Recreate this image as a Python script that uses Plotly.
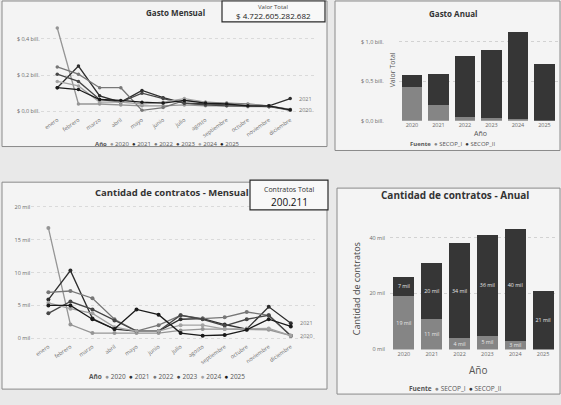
import plotly.graph_objects as go

# ---------------- DATA ----------------
meses = ["enero", "febrero", "marzo", "abril", "mayo", "junio", "julio",
         "agosto", "septiembre", "octubre", "noviembre", "diciembre"]
anios = ["2020", "2021", "2022", "2023", "2024", "2025"]

# Gasto mensual (billones de pesos)
gasto_2020 = [0.46, 0.04, 0.04, 0.035, 0.03, 0.03, 0.035, 0.03, 0.03, 0.025, 0.025, 0.005]
gasto_2021 = [0.13, 0.25, 0.085, 0.05, 0.115, 0.075, 0.045, 0.04, 0.04, 0.035, 0.03, 0.07]
gasto_2022 = [0.245, 0.205, 0.13, 0.13, 0.005, 0.02, 0.06, 0.05, 0.045, 0.04, 0.03, 0.005]
gasto_2023 = [0.205, 0.165, 0.065, 0.05, 0.10, 0.07, 0.045, 0.035, 0.03, 0.03, 0.025, 0.01]
gasto_2024 = [0.165, 0.14, 0.05, 0.05, 0.04, 0.05, 0.07, 0.05, 0.04, 0.035, 0.03, 0.01]
gasto_2025 = [0.13, 0.12, 0.065, 0.06, 0.05, 0.045, 0.06, 0.045, 0.04, 0.03, 0.03, 0.008]

# Cantidad de contratos mensual (miles)
contratos_2020 = [16.8, 2.1, 0.8, 0.8, 0.8, 0.8, 1.2, 1.4, 1.4, 1.3, 1.3, 0.4]
contratos_2021 = [5.9, 10.3, 3.0, 1.4, 1.1, 1.1, 2.9, 3.0, 2.1, 1.4, 4.8, 2.3]
contratos_2022 = [7.0, 7.2, 6.1, 2.9, 1.1, 2.0, 3.5, 3.0, 3.2, 4.0, 3.5, 0.4]
contratos_2023 = [3.8, 5.6, 4.4, 2.7, 1.1, 1.1, 3.5, 2.9, 1.9, 2.9, 3.5, 0.4]
contratos_2024 = [5.4, 4.5, 3.8, 1.7, 1.1, 1.1, 2.0, 2.0, 1.4, 1.5, 1.5, 0.4]
contratos_2025 = [5.0, 5.0, 2.9, 1.4, 4.4, 3.6, 0.8, 0.4, 0.5, 1.3, 2.9, 1.8]

# Anual por fuente
fuentes = ["SECOP_I", "SECOP_II"]
gasto_secop1 = [0.43, 0.20, 0.05, 0.03, 0.02, 0.0]
gasto_secop2 = [0.15, 0.39, 0.77, 0.86, 1.10, 0.72]
contratos_secop1 = [19, 11, 4, 5, 3, 0]
contratos_secop2 = [7, 20, 34, 36, 40, 21]

valor_total = "$ 4.722.605.282.682"
contratos_total = "200.211"

gasto_ticks = [0, 0.2, 0.4]
gasto_ticktext = ["$ 0,0 bill.", "$ 0,2 bill.", "$ 0,4 bill."]
anual_ticks = [0, 0.5, 1.0]
anual_ticktext = ["$ 0,0 bill.", "$ 0,5 bill.", "$ 1,0 bill."]
cont_ticks = [0, 5, 10, 15, 20]
cont_ticktext = ["0 mil", "5 mil", "10 mil", "15 mil", "20 mil"]
cont_anual_ticks = [0, 20, 40]
cont_anual_ticktext = ["0 mil", "20 mil", "40 mil"]

# ---------------- STYLE ----------------
W, H = 561, 405
FONT = "Open Sans"
year_colors = ["#959595", "#2e2e2e", "#777777", "#474747", "#a3a3a3", "#1a1a1a"]
fuente_colors = ["#858585", "#363636"]
gasto_series = [gasto_2020, gasto_2021, gasto_2022, gasto_2023, gasto_2024, gasto_2025]
cont_series = [contratos_2020, contratos_2021, contratos_2022, contratos_2023,
               contratos_2024, contratos_2025]


def px(x):
    return x / W


def py(y):
    return 1 - y / H


fig = go.Figure()

for name, vals, col in zip(anios, gasto_series, year_colors):
    fig.add_trace(go.Scatter(x=meses, y=vals, name=name, mode="lines+markers",
                             line=dict(color=col, width=1.3),
                             marker=dict(color=col, size=3.5),
                             xaxis="x", yaxis="y", showlegend=False))

for name, vals, col in zip(anios, cont_series, year_colors):
    fig.add_trace(go.Scatter(x=meses, y=vals, name=name, mode="lines+markers",
                             line=dict(color=col, width=1.3),
                             marker=dict(color=col, size=4),
                             xaxis="x3", yaxis="y3", showlegend=False))

for name, vals, col in zip(fuentes, [gasto_secop1, gasto_secop2], fuente_colors):
    fig.add_trace(go.Bar(x=anios, y=vals, name=name, marker=dict(color=col, line=dict(width=0)),
                         xaxis="x2", yaxis="y2", showlegend=False))

for name, vals, col in zip(fuentes, [contratos_secop1, contratos_secop2], fuente_colors):
    fig.add_trace(go.Bar(x=anios, y=vals, name=name,
                         marker=dict(color=col, line=dict(width=0)),
                         text=[f"{v} mil" if v > 0 else "" for v in vals],
                         textposition="inside", insidetextanchor="middle",
                         textfont=dict(color="#e8e8e8", size=6, family=FONT),
                         textangle=0,
                         xaxis="x4", yaxis="y4", showlegend=False))

axis_common = dict(showline=False, zeroline=False, ticks="",
                   tickfont=dict(size=5.5, color="#6a6a6a", family=FONT))

fig.update_layout(
    width=W, height=H,
    margin=dict(l=0, r=0, t=0, b=0),
    paper_bgcolor="#e9e9e9",
    plot_bgcolor="rgba(0,0,0,0)",
    barmode="stack",
    bargap=0.24,
    uniformtext=dict(minsize=5, mode="show"),
    font=dict(family=FONT, color="#444"),
    xaxis=dict(domain=[px(40.6), px(314.2)], anchor="y", tickangle=-35,
               showgrid=False, **axis_common),
    yaxis=dict(domain=[py(116), py(21)], anchor="x", range=[-0.02, 0.5],
               tickvals=gasto_ticks, ticktext=gasto_ticktext,
               showgrid=True, gridcolor="#dadada", griddash="dot", **axis_common),
    xaxis2=dict(domain=[px(398.7), px(557.7)], anchor="y2", showgrid=False,
                **axis_common),
    yaxis2=dict(domain=[py(122), py(26)], anchor="x2", range=[0, 1.2],
                tickvals=anual_ticks, ticktext=anual_ticktext, ticklabelstandoff=14,
                showgrid=True, gridcolor="#d2d2d2", griddash="dot", **axis_common),
    xaxis3=dict(domain=[px(31.2), px(314.8)], anchor="y3", tickangle=-35,
                showgrid=False, **axis_common),
    yaxis3=dict(domain=[py(345), py(199)], anchor="x3", range=[-0.5, 21.5],
                tickvals=cont_ticks, ticktext=cont_ticktext,
                showgrid=True, gridcolor="#dadada", griddash="dot", **axis_common),
    xaxis4=dict(domain=[px(390), px(557)], anchor="y4", showgrid=False,
                **axis_common),
    yaxis4=dict(domain=[py(353), py(223)], anchor="x4", range=[0, 46],
                tickvals=cont_anual_ticks, ticktext=cont_anual_ticktext, ticklabelstandoff=4,
                showgrid=True, gridcolor="#d2d2d2", griddash="dot", **axis_common),
)

shapes = []
for (x0, y0, x1, y1) in [(2, 1, 327, 148), (335, 1, 560, 152),
                         (2, 184, 327, 393), (337, 190, 560, 398)]:
    shapes.append(dict(type="rect", xref="paper", yref="paper",
                       x0=px(x0), x1=px(x1), y0=py(y1), y1=py(y0),
                       fillcolor="#f4f4f4", line=dict(color="#8a8a8a", width=1),
                       layer="below"))
for (x0, y0, x1, y1) in [(222, 1, 325, 22), (250, 182, 328, 212)]:
    shapes.append(dict(type="rect", xref="paper", yref="paper",
                       x0=px(x0), x1=px(x1), y0=py(y1), y1=py(y0),
                       fillcolor="#f8f8f8", line=dict(color="#2a2a2a", width=1.2),
                       layer="above"))
fig.update_layout(shapes=shapes)

ann = []


def text(x, y, s, size, bold=False, color="#333", **kw):
    ann.append(dict(x=px(x), y=py(y), xref="paper", yref="paper", text=f"<b>{s}</b>" if bold else s,
                    showarrow=False, font=dict(size=size, color=color, family=FONT),
                    xanchor=kw.pop("xanchor", "center"), yanchor=kw.pop("yanchor", "middle"), **kw))


text(175, 13, "Gasto Mensual", 8, bold=True)
text(453, 14, "Gasto Anual", 8, bold=True)
text(172, 194, "Cantidad de contratos - Mensual", 9.5, bold=True)
text(455, 197, "Cantidad de contratos - Anual", 10, bold=True)

text(273, 7, "Valor Total", 6, color="#444")
text(273, 16, valor_total, 8, color="#222")
text(289, 191, "Contratos Total", 7, color="#333")
text(289, 204, contratos_total, 10, color="#111")

text(392, 71, "Valor Total", 7, color="#555", textangle=-90)
text(480, 135, "Año", 7, color="#555")
text(356, 291, "Cantidad de contratos", 9, color="#444", textangle=-90)
text(478, 374, "Año", 10, color="#555")


def legend_str(title, names, cols):
    parts = [f"<b>{title}</b>"]
    for n, c in zip(names, cols):
        parts.append(f"<span style='color:{c}'>●</span> {n}")
    return "  ".join(parts)


text(167, 145, legend_str("Año", anios, year_colors), 6, color="#555")
text(167, 380, legend_str("Año", anios, year_colors), 6.5, color="#555")
text(452, 145, legend_str("Fuente", fuentes, fuente_colors), 6, color="#555")
text(455, 392, legend_str("Fuente", fuentes, fuente_colors), 6.5, color="#555")

for xa, ya, series in [("x", "y", gasto_series), ("x3", "y3", cont_series)]:
    for idx in [1, 0]:
        ann.append(dict(x=meses[-1], y=series[idx][-1], xref=xa, yref=ya, text=anios[idx],
                        showarrow=False, xanchor="left", xshift=7,
                        font=dict(size=5.5, color="#777", family=FONT)))

fig.update_layout(annotations=ann)

fig.write_html("out.html", config={"displayModeBar": False},
               post_script="document.body.style.margin='0';document.body.style.overflow='hidden';")
